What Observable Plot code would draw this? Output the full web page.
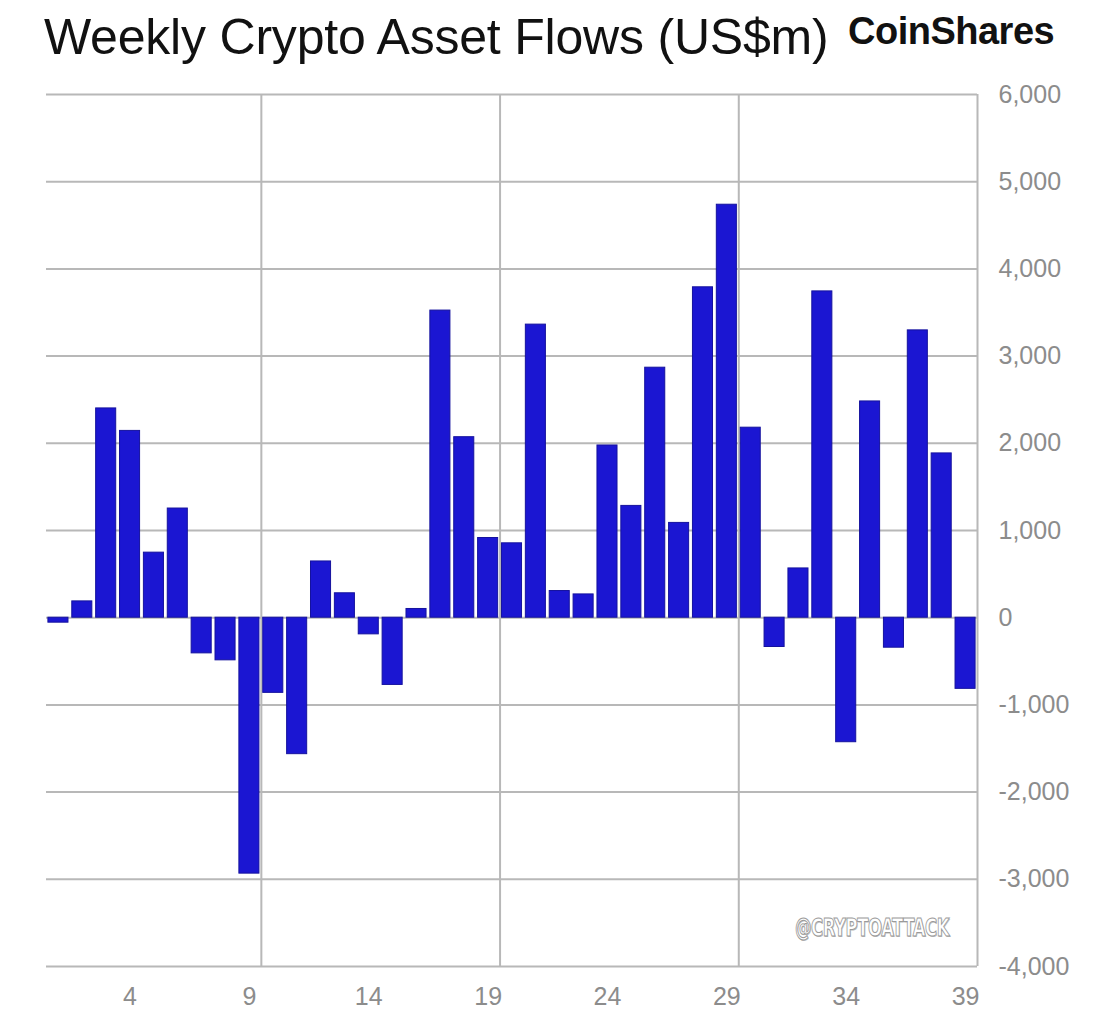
<!DOCTYPE html>
<html>
<head>
<meta charset="utf-8">
<script src="https://cdn.jsdelivr.net/npm/d3@7"></script>
<script src="https://cdn.jsdelivr.net/npm/@observablehq/plot@0.6"></script>
<style>
  html, body { margin: 0; padding: 0; background: #fff; }
  #wrap { position: relative; width: 1100px; height: 1013px; overflow: hidden; }
  #header { position: relative; height: 80px; }
  #title { position: absolute; left: 44px; top: 8px; font-family: "Liberation Sans", Arial, sans-serif; font-size: 50px; color: #111; white-space: nowrap; letter-spacing: -0.2px; }
  #logo { position: absolute; left: 848px; top: 10px; font-family: "Liberation Sans", Arial, sans-serif; font-weight: bold; font-size: 38px; color: #111; white-space: nowrap; letter-spacing: -0.5px; }
  #watermark { position: absolute; left: 795px; top: 913px; font-family: "DejaVu Sans Condensed", "DejaVu Sans", sans-serif; font-weight: bold; font-size: 25px; color: #fff; white-space: nowrap; transform: scaleX(0.73); transform-origin: left top; -webkit-text-stroke: 1px #9a9a9a; text-shadow: 1px 1px 0 #bdbdbd; letter-spacing: -0.5px; }
</style>
</head>
<body>
<div id="wrap">
  <div id="header">
    <div id="title">Weekly Crypto Asset Flows (US$m)</div>
    <div id="logo">CoinShares</div>
  </div>
  <div id="chart"></div>
  <div id="watermark">@CRYPTOATTACK</div>
</div>
<script>
const weeks = [1,2,3,4,5,6,7,8,9,10,11,12,13,14,15,16,17,18,19,20,21,22,23,24,25,26,27,28,29,30,31,32,33,34,35,36,37,38,39];
const flows = [-57, 187, 2400, 2142, 746, 1252, -409, -489, -2935, -862,
               -1565, 645, 280, -191, -771, 100, 3522, 2070, 914, 853,
               3361, 306, 267, 1975, 1282, 2867, 1087, 3789, 4736, 2179,
               -336, 565, 3742, -1428, 2480, -344, 3295, 1884, -816];
const xTicks = [4, 9, 14, 19, 24, 29, 34, 39];
const yTicks = [-4000, -3000, -2000, -1000, 0, 1000, 2000, 3000, 4000, 5000, 6000];
const gridWeeks = [9, 19, 29, 39];

const data = weeks.map((w, i) => ({week: w, value: flows[i]}));
const halfBar = 0.42;
const gridColor = "#b8b8b8";

const chart = Plot.plot({
  width: 1100,
  height: 933,
  marginTop: 14,
  marginBottom: 47,
  marginLeft: 46,
  marginRight: 123,
  style: {fontFamily: "Liberation Sans, Arial, sans-serif", fontSize: "25px", color: "#8c8c8c", background: "#fff"},
  x: {type: "linear", domain: [0.5, 39.5]},
  y: {domain: [-4000, 6000]},
  marks: [
    Plot.ruleY(yTicks, {stroke: gridColor, strokeWidth: 2}),
    Plot.ruleX(gridWeeks, {x: d => d + 0.5, y1: yTicks[0], y2: yTicks[yTicks.length - 1], stroke: gridColor, strokeWidth: 2}),
    Plot.rectY(data, {
      x1: d => d.week - halfBar,
      x2: d => d.week + halfBar,
      y1: 0,
      y2: "value",
      fill: "#1b16d2",
      stroke: "#15129e",
      strokeWidth: 1
    }),
    Plot.axisY({anchor: "right", ticks: yTicks, tickSize: 0, tickPadding: 21, tickFormat: d => d.toLocaleString("en-US"), label: null, fontSize: 25}),
    Plot.axisX({anchor: "bottom", ticks: xTicks, tickSize: 0, tickPadding: 21, tickFormat: d => String(d), label: null, fontSize: 25})
  ]
});
document.getElementById("chart").appendChild(chart);
</script>
</body>
</html>
